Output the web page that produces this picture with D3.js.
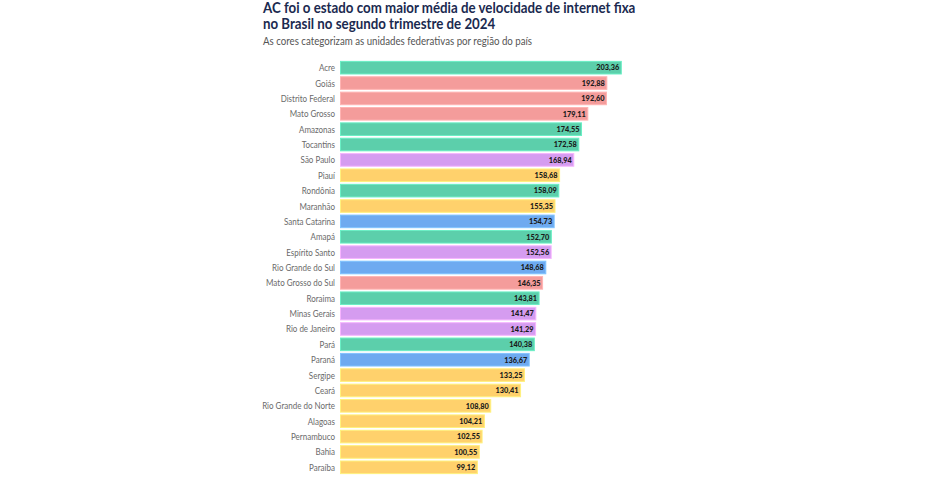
<!DOCTYPE html>
<html><head><meta charset="utf-8">
<script src="https://cdn.jsdelivr.net/npm/d3@7"></script>
<style>body{margin:0;background:#fff;} svg{display:block;font-family:Lato,"Noto Sans",sans-serif;}</style>
</head><body>
<svg id="chart" width="936" height="479"></svg>
<script>
const states = ["Acre","Goiás","Distrito Federal","Mato Grosso","Amazonas","Tocantins","São Paulo","Piauí","Rondônia","Maranhão","Santa Catarina","Amapá","Espírito Santo","Rio Grande do Sul","Mato Grosso do Sul","Roraima","Minas Gerais","Rio de Janeiro","Pará","Paraná","Sergipe","Ceará","Rio Grande do Norte","Alagoas","Pernambuco","Bahia","Paraíba"];
const speeds = [203.36,192.88,192.60,179.11,174.55,172.58,168.94,158.68,158.09,155.35,154.73,152.70,152.56,148.68,146.35,143.81,141.47,141.29,140.38,136.67,133.25,130.41,108.80,104.21,102.55,100.55,99.12];
const regions = ["Norte","Centro-Oeste","Centro-Oeste","Centro-Oeste","Norte","Norte","Sudeste","Nordeste","Norte","Nordeste","Sul","Norte","Sudeste","Sul","Centro-Oeste","Norte","Sudeste","Sudeste","Norte","Sul","Nordeste","Nordeste","Nordeste","Nordeste","Nordeste","Nordeste","Nordeste"];
const regionNames = ["Norte","Centro-Oeste","Sudeste","Nordeste","Sul"];
const regionColors = ["#5ccfab","#f49c9b","#d59cf0","#ffd16c","#6eaaf0"];
const title = ["AC foi o estado com maior média de velocidade de internet fixa","no Brasil no segundo trimestre de 2024"];
const subtitle = "As cores categorizam as unidades federativas por região do país";

const svg = d3.select("#chart");
const color = d3.scaleOrdinal().domain(regionNames).range(regionColors);
const x = d3.scaleLinear().domain([0, 203.36]).range([340.5, 621.3]);
const y = d3.scaleBand().domain(states).range([60, 475]).paddingInner(0.18).paddingOuter(0.09);

// horizontally condense text to approximate the narrower original typeface
function condense(sel, f) {
  sel.each(function(){ const w = this.getComputedTextLength(); d3.select(this).attr("textLength", w*f).attr("lengthAdjust","spacingAndGlyphs"); });
}

svg.append("g").selectAll("text").data(title).join("text")
  .attr("x", 263).attr("y", (d,i)=>12.5 + i*16)
  .attr("font-size", 14.3).attr("font-weight", 700).attr("fill", "#1b2a50")
  .text(d=>d).call(condense, 0.93);
svg.append("text").attr("x", 263).attr("y", 44.5)
  .attr("font-size", 11).attr("fill", "#555").text(subtitle).call(condense, 0.88);

const data = states.map((s,i)=>({s, v:speeds[i], r:regions[i]}));
const g = svg.append("g");
g.selectAll("rect").data(data).join("rect")
  .attr("x", x(0)).attr("y", d=>y(d.s))
  .attr("width", d=>x(d.v)-x(0)).attr("height", y.bandwidth())
  .attr("fill", d=>color(d.r))
  .attr("stroke", d=>d3.color(color(d.r)).brighter(0.4)).attr("stroke-width", 1);

g.selectAll("text.lab").data(data).join("text").attr("class","lab")
  .attr("x", 335).attr("y", d=>y(d.s)+y.bandwidth()/2).attr("dy","0.35em")
  .attr("text-anchor","end").attr("font-size", 10).attr("fill", "#6a6a6a")
  .text(d=>d.s).call(condense, 0.8);

const fmt = v => v.toFixed(2).replace(".", ",");
g.selectAll("text.val").data(data).join("text").attr("class","val")
  .attr("x", d=>x(d.v)-2).attr("y", d=>y(d.s)+y.bandwidth()/2).attr("dy","0.35em")
  .attr("text-anchor","end").attr("font-size", 8).attr("font-weight", 900).attr("fill", "#1a1a1a")
  .text(d=>fmt(d.v)).call(condense, 0.92);
</script>
</body></html>
